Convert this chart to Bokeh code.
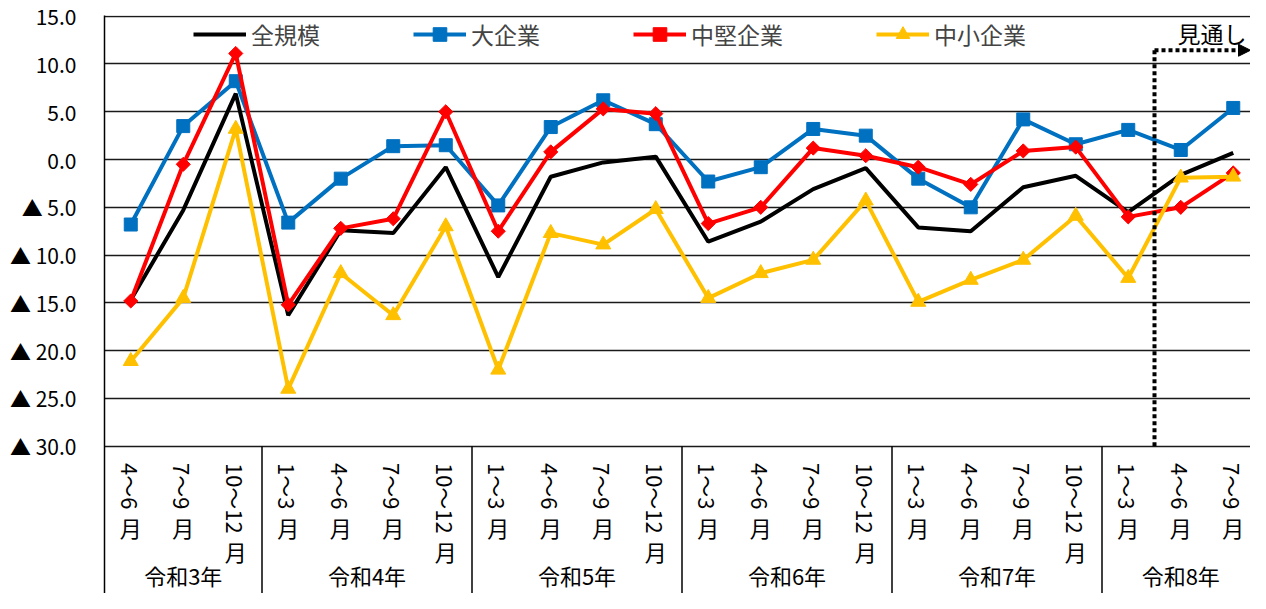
import math
from bokeh.plotting import figure
from bokeh.models import (FixedTicker, Legend, LegendItem, Arrow, NormalHead,
                          ColumnDataSource)
from bokeh.core.properties import value
from bokeh.embed import file_html
from bokeh.resources import INLINE

# ---------------- data ----------------
years = ["令和3年", "令和4年", "令和5年", "令和6年", "令和7年", "令和8年"]
quarters = [
    ["4～6", "7～9", "10～12"],
    ["1～3", "4～6", "7～9", "10～12"],
    ["1～3", "4～6", "7～9", "10～12"],
    ["1～3", "4～6", "7～9", "10～12"],
    ["1～3", "4～6", "7～9", "10～12"],
    ["1～3", "4～6", "7～9"],
]
month_suffix = "月"
forecast_label = "見通し"
forecast_first_index = 20  # first category of the outlook (令和8年 4～6月)

series_names = ["全規模", "大企業", "中堅企業", "中小企業"]
total = [-14.7, -5.3, 6.9, -16.3, -7.4, -7.7, -0.8, -12.3, -1.8, -0.3, 0.3,
         -8.6, -6.5, -3.1, -0.9, -7.1, -7.5, -2.9, -1.7, -5.5, -1.6, 0.7]
large = [-6.8, 3.5, 8.2, -6.6, -2.0, 1.4, 1.5, -4.8, 3.4, 6.2, 3.7,
         -2.3, -0.8, 3.2, 2.5, -2.0, -5.0, 4.2, 1.6, 3.1, 1.0, 5.4]
mid = [-14.8, -0.5, 11.1, -15.2, -7.2, -6.2, 5.0, -7.5, 0.8, 5.3, 4.8,
       -6.7, -5.0, 1.2, 0.4, -0.8, -2.6, 0.9, 1.3, -6.0, -5.0, -1.4]
small = [-21.1, -14.5, 3.2, -24.0, -11.9, -16.3, -7.0, -22.0, -7.7, -8.9, -5.2,
         -14.5, -11.9, -10.5, -4.3, -14.9, -12.6, -10.5, -5.9, -12.4, -1.9, -1.8]

y_tick_values = [15, 10, 5, 0, -5, -10, -15, -20, -25, -30]
y_tick_labels = ["15.0", "10.0", "5.0", "0.0", "▲ 5.0", "▲ 10.0", "▲ 15.0",
                 "▲ 20.0", "▲ 25.0", "▲ 30.0"]

# ---------------- layout constants ----------------
FONT = "Noto Sans CJK JP"
W, H = 1250, 593
BORDER_LEFT, BORDER_TOP = 104, 15
PPU = 9.556                      # pixels per y unit
Y_TOP = 15 + 0.7 / PPU
Y_BOTTOM = Y_TOP - (H - BORDER_TOP) / PPU
CAT_PX = 52.5                    # pixels per category
X_END = (W - BORDER_LEFT) / CAT_PX

n = sum(len(q) for q in quarters)
xs = [i + 0.5 for i in range(n)]
axis_floor = min(y_tick_values)

p = figure(width=W, height=H, output_backend="svg", toolbar_location=None,
           x_range=(0, X_END), y_range=(Y_BOTTOM, Y_TOP),
           x_axis_location=None, min_border_left=BORDER_LEFT, min_border_right=0,
           min_border_top=BORDER_TOP, min_border_bottom=0)
p.outline_line_color = None
p.background_fill_color = "white"
p.border_fill_color = "white"

# y axis
p.yaxis.ticker = FixedTicker(ticks=y_tick_values)
p.yaxis.major_label_overrides = {v: s for v, s in zip(y_tick_values, y_tick_labels)}
p.yaxis.major_tick_line_color = None
p.yaxis.minor_tick_line_color = None
p.yaxis.axis_line_color = "black"
p.yaxis.axis_line_width = 1.5
p.yaxis.major_label_standoff = 22
p.yaxis.major_label_text_font = FONT
p.yaxis.major_label_text_font_size = "21px"
p.yaxis.major_label_text_color = "black"

p.xgrid.visible = False
p.ygrid.ticker = FixedTicker(ticks=y_tick_values)
p.ygrid.grid_line_color = "#1a1a1a"
p.ygrid.grid_line_width = 1.6

# group separators in the category-axis area
bounds = []
c = 0
for q in quarters[:-1]:
    c += len(q)
    bounds.append(c)
p.segment(x0=bounds, y0=[axis_floor] * len(bounds), x1=bounds,
          y1=[Y_BOTTOM] * len(bounds), line_color="black", line_width=1.5)

# ---------------- series ----------------
src = ColumnDataSource(dict(x=xs, total=total, large=large, mid=mid, small=small))
l_total = p.line("x", "total", source=src, line_color="black", line_width=4)
l_large = p.line("x", "large", source=src, line_color="#0070C0", line_width=4)
m_large = p.scatter("x", "large", source=src, marker="square", size=13,
                    fill_color="#0070C0", line_color="#0070C0")
l_mid = p.line("x", "mid", source=src, line_color="#FF0000", line_width=4)
m_mid = p.scatter("x", "mid", source=src, marker="square", size=10, angle=math.pi / 4,
                  fill_color="#FF0000", line_color="#FF0000")
l_small = p.line("x", "small", source=src, line_color="#FFC000", line_width=4)
m_small = p.scatter("x", "small", source=src, marker="triangle", size=15,
                    fill_color="#FFC000", line_color="#FFC000")

legend = Legend(items=[
    LegendItem(label=series_names[0], renderers=[l_total]),
    LegendItem(label=series_names[1], renderers=[l_large, m_large]),
    LegendItem(label=series_names[2], renderers=[l_mid, m_mid]),
    LegendItem(label=series_names[3], renderers=[l_small, m_small]),
], orientation="horizontal", location=(89, 542), padding=0, spacing=93,
    glyph_width=53, glyph_height=34, label_height=34, label_standoff=5,
    label_text_font=FONT, label_text_font_size="23px", border_line_color=None,
    background_fill_alpha=0, margin=0)
p.add_layout(legend)

# ---------------- category labels ----------------
FS = 22
top_y = axis_floor - 16.7 / PPU
q_text, m_y = [], []
for qs in quarters:
    for q in qs:
        q_text.append(q)
        w = sum(FS if ord(ch) > 0x2000 else 0.56 * FS for ch in q)
        m_y.append(top_y - (w + 1) / PPU)
p.text(x=xs, y=[top_y] * n, text=q_text, angle=-math.pi / 2,
       text_align="left", text_baseline="middle", text_font=value(FONT),
       text_font_size=f"{FS}px", text_color="black")
p.text(x=xs, y=m_y, text=[month_suffix] * n, text_align="center",
       text_baseline="top", text_font=value(FONT), text_font_size=f"{FS}px",
       text_color="black")

g_x = []
c = 0
for q in quarters:
    g_x.append(c + len(q) / 2)
    c += len(q)
year_y = axis_floor - (575 - 446) / PPU
p.text(x=g_x, y=[year_y] * len(years), text=years, text_align="center",
       text_baseline="middle", text_font=value(FONT), text_font_size="22px",
       text_color="black")

# ---------------- outlook marker ----------------
arrow_y = axis_floor + (446 - 50) / PPU
p.add_layout(Arrow(end=None, x_start=forecast_first_index, y_start=axis_floor,
                   x_end=forecast_first_index, y_end=arrow_y,
                   line_color="black", line_width=4, line_dash="4 3"))
p.add_layout(Arrow(end=NormalHead(size=12, fill_color="black", line_color="black"),
                   x_start=forecast_first_index, y_start=arrow_y,
                   x_end=X_END, y_end=arrow_y,
                   line_color="black", line_width=4, line_dash="4 3"))
p.text(x=[X_END], y=[axis_floor + (446 - 33) / PPU], text=[forecast_label],
       text_align="right", text_baseline="middle", x_offset=-4,
       text_font=value(FONT), text_font_size="23px", text_color="black")

open("out.html", "w").write(file_html(p, INLINE))
